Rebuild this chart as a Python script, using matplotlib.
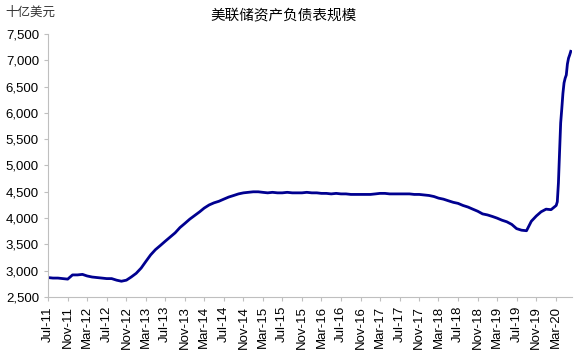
#!/usr/bin/env python3
# -*- coding: utf-8 -*-
"""Taille du bilan de la Fed (milliards USD), juil. 2011 - juin 2020."""

import pandas as pd
import matplotlib
matplotlib.use("Agg")
import matplotlib.pyplot as plt
import matplotlib.dates as mdates
from matplotlib.ticker import FuncFormatter

plt.rcParams["font.family"] = ["Liberation Sans", "Noto Sans CJK SC", "DejaVu Sans"]

# ---------------------------------------------------------------------
# valeurs mensuelles (1er du mois)
MONTH_START = "2011-07-01"
MONTHLY_VALUES = [
    # 2011 jul..dec
    2870, 2860, 2860, 2850, 2840, 2920,
    # 2012
    2920, 2930, 2900, 2880, 2870, 2860, 2850, 2850, 2820, 2800, 2820, 2880,
    # 2013
    2950, 3050, 3170, 3300, 3400, 3480, 3560, 3640, 3720, 3820, 3900, 3980,
    # 2014
    4050, 4120, 4190, 4250, 4290, 4320, 4360, 4400, 4430, 4460, 4480, 4490,
    # 2015
    4500, 4500, 4490, 4480, 4490, 4480, 4480, 4490, 4480, 4480, 4480, 4490,
    # 2016
    4480, 4480, 4470, 4470, 4460, 4470, 4460, 4460, 4450, 4450, 4450, 4450,
    # 2017
    4450, 4460, 4470, 4470, 4460, 4460, 4460, 4460, 4460, 4450, 4450, 4440,
    # 2018
    4430, 4410, 4380, 4360, 4330, 4300, 4280, 4240, 4210, 4170, 4130, 4080,
    # 2019
    4060, 4030, 4000, 3960, 3930, 3880, 3800, 3770, 3760, 3940, 4040, 4120,
    # 2020 jan..feb
    4170, 4160,
]

# valeurs hebdomadaires pendant la crise de 2020
WEEKLY_DATES = [
    "2020-03-04", "2020-03-11", "2020-03-18", "2020-03-25", "2020-04-01",
    "2020-04-08", "2020-04-15", "2020-04-22", "2020-04-29", "2020-05-06",
    "2020-05-13", "2020-05-20", "2020-05-27", "2020-06-03",
]
WEEKLY_VALUES = [
    4240, 4310, 4670, 5250, 5810, 6080, 6370, 6570, 6660, 6720,
    6930, 7040, 7100, 7170,
]

TITLE = "美联储资产负债表规模"
UNIT = "十亿美元"
LINE_COLOR = "#000090"


def main() -> None:
    monthly_dates = pd.date_range(MONTH_START, periods=len(MONTHLY_VALUES), freq="MS")
    dates = list(monthly_dates) + list(pd.to_datetime(WEEKLY_DATES))
    values = MONTHLY_VALUES + WEEKLY_VALUES

    fig = plt.figure(figsize=(5.78, 3.54), dpi=100)
    ax = fig.add_axes([0.083, 0.161, 0.907, 0.743])

    ax.plot(dates, values, color=LINE_COLOR, linewidth=2.0)

    ax.set_xlim(pd.Timestamp("2011-07-01"), pd.Timestamp("2020-06-12"))
    ax.set_ylim(2500, 7500)
    ax.set_yticks(range(2500, 7501, 500))
    ax.yaxis.set_major_formatter(FuncFormatter(lambda v, _: f"{int(v):,}"))

    ticks = pd.date_range("2011-07-01", "2020-03-01", freq="4MS")
    ax.set_xticks(ticks)
    ax.xaxis.set_major_formatter(mdates.DateFormatter("%b-%y"))
    plt.setp(ax.get_xticklabels(), rotation=90)

    for side in ("top", "right"):
        ax.spines[side].set_visible(False)
    for side in ("left", "bottom"):
        ax.spines[side].set_color("#bfbfbf")
    ax.tick_params(axis="both", colors="#bfbfbf", labelcolor="black",
                   labelsize=9.5, length=3)

    fig.text(0.49, 0.955, TITLE, ha="center", va="center", fontsize=10.5,
             family=["Noto Sans CJK SC"], fontweight="medium")
    fig.text(0.01, 0.965, UNIT, ha="left", va="center", fontsize=9,
             family=["Noto Sans CJK SC"], color="#333333")

    fig.savefig("out.png", dpi=100)


if __name__ == "__main__":
    main()
